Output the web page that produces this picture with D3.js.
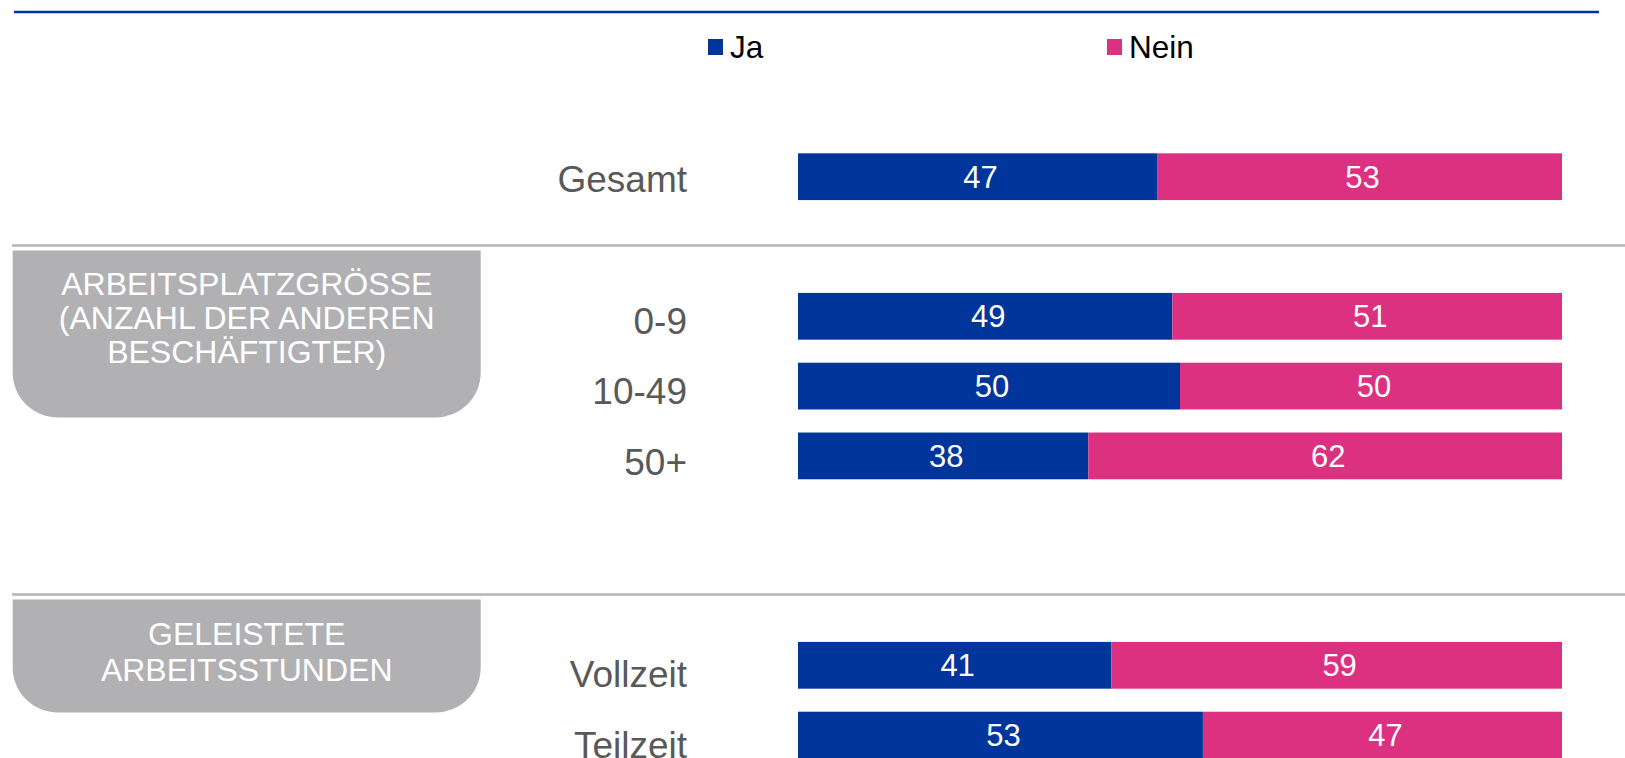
<!DOCTYPE html>
<html>
<head>
<meta charset="utf-8">
<script src="https://cdn.jsdelivr.net/npm/d3@7"></script>
<style>
  html, body { margin: 0; padding: 0; background: #fff; }
  #chart { width: 1625px; height: 758px; overflow: hidden; }
  text { font-family: Arial, "Liberation Sans", sans-serif; }
</style>
</head>
<body>
<div id="chart"></div>
<script>
(function() {
  'use strict';

  // data
  var rows = ['Gesamt', '_gap1', '0-9', '10-49', '50+', '_gap2', '_gap3', 'Vollzeit', 'Teilzeit'];
  var categories = ['Gesamt', '0-9', '10-49', '50+', 'Vollzeit', 'Teilzeit'];
  var jaValues = [47, 49, 50, 38, 41, 53];
  var neinValues = [53, 51, 50, 62, 59, 47];
  var seriesNames = ['Ja', 'Nein'];
  var groupTitles = [
    ['ARBEITSPLATZGRÖSSE', '(ANZAHL DER ANDEREN', 'BESCHÄFTIGTER)'],
    ['GELEISTETE', 'ARBEITSSTUNDEN']
  ];
  var groupSeparators = ['_gap1', '_gap3'];

  var width = 1625, height = 758;
  var colors = { Ja: '#00359b', Nein: '#dc3080' };

  var svg = d3.select('#chart').append('svg').attr('width', width).attr('height', height);

  var x = d3.scaleLinear().domain([0, 100]).range([798, 1562]);
  var y = d3.scaleBand().domain(rows).range([141.8, 141.8 + rows.length * 69.8])
    .paddingInner(0.33).paddingOuter(0.165);
  // the category labels sit on a slightly wider pitch than the bars
  var yLabel = d3.scalePoint().domain(rows).range([178.8, 178.8 + (rows.length - 1) * 70.7]);

  // top rule
  svg.append('line').attr('x1', 14).attr('x2', 1599).attr('y1', 12).attr('y2', 12)
    .attr('stroke', '#0033a0').attr('stroke-width', 2.5);

  // legend
  var legend = svg.selectAll('.legend').data(seriesNames).enter().append('g')
    .attr('class', 'legend')
    .attr('transform', function(d, i) { return 'translate(' + (708 + i * 399) + ',39)'; });
  legend.append('rect').attr('width', 15).attr('height', 16).attr('fill', function(d) { return colors[d]; });
  legend.append('text').attr('x', 22).attr('y', 8).attr('dy', '0.36em')
    .attr('font-size', '31.5px').attr('fill', '#000').text(function(d) { return d; });

  // group separators + title boxes
  var boxHeights = [167, 113];
  var textCenters = [67, 52];
  var lineSteps = [34, 36];
  groupSeparators.forEach(function(key, i) {
    var ly = y(key) + y.bandwidth() / 2 - 1;
    svg.append('line').attr('x1', 12).attr('x2', width).attr('y1', ly).attr('y2', ly)
      .attr('stroke', '#b5b5b5').attr('stroke-width', 2.5);
    var top = ly + 5, h = boxHeights[i], r = 45, x0 = 12.7, x1 = 480.7;
    var path = d3.path();
    path.moveTo(x0, top);
    path.lineTo(x1, top);
    path.lineTo(x1, top + h - r);
    path.arcTo(x1, top + h, x1 - r, top + h, r);
    path.lineTo(x0 + r, top + h);
    path.arcTo(x0, top + h, x0, top + h - r, r);
    path.closePath();
    svg.append('path').attr('d', path.toString()).attr('fill', '#b1b1b3');
    var lines = groupTitles[i];
    var cy = top + textCenters[i];
    svg.append('g').selectAll('text').data(lines).enter().append('text')
      .attr('x', (x0 + x1) / 2)
      .attr('y', function(d, j) { return cy + (j - (lines.length - 1) / 2) * lineSteps[i]; })
      .attr('dy', '0.36em').attr('text-anchor', 'middle')
      .attr('font-size', '32px').attr('fill', '#fff')
      .text(function(d) { return d; });
  });

  // bars
  var data = categories.map(function(c, i) { return { cat: c, Ja: jaValues[i], Nein: neinValues[i] }; });
  var stacked = d3.stack().keys(seriesNames)(data);

  var layer = svg.selectAll('.layer').data(stacked).enter().append('g').attr('class', 'layer');
  layer.selectAll('rect').data(function(s) { return s.map(function(p) { return { key: s.key, p: p }; }); })
    .enter().append('rect')
    .attr('x', function(d) { return x(d.p[0]); })
    .attr('width', function(d) { return x(d.p[1]) - x(d.p[0]); })
    .attr('y', function(d) { return y(d.p.data.cat); })
    .attr('height', y.bandwidth())
    .attr('fill', function(d) { return colors[d.key]; });

  layer.selectAll('text').data(function(s) { return s.map(function(p) { return { key: s.key, p: p }; }); })
    .enter().append('text')
    .attr('x', function(d) { return (x(d.p[0]) + x(d.p[1])) / 2 + 3; })
    .attr('y', function(d) { return y(d.p.data.cat) + y.bandwidth() / 2; })
    .attr('dy', '0.36em').attr('text-anchor', 'middle')
    .attr('font-size', '31px').attr('fill', '#fff')
    .text(function(d) { return d.p.data[d.key]; });

  // category labels
  svg.selectAll('.cat').data(categories).enter().append('text')
    .attr('class', 'cat')
    .attr('x', 687)
    .attr('y', function(d) { return yLabel(d); })
    .attr('dy', '0.36em').attr('text-anchor', 'end')
    .attr('font-size', '37px').attr('fill', '#595959')
    .text(function(d) { return d; });
})();
</script>
</body>
</html>
